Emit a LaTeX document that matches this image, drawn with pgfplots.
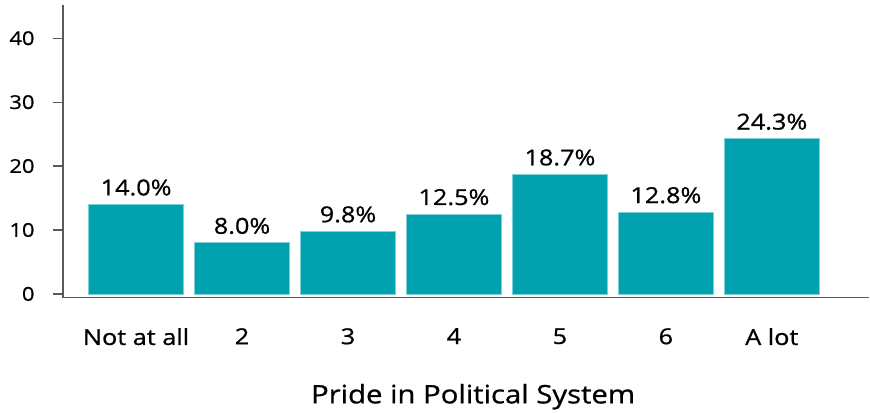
\documentclass[border=0pt]{standalone}
\usepackage{fontspec}
\setmainfont{Open Sans}[FakeStretch=1.15, FakeBold=0.8]
\usepackage{pgfplots}
\pgfplotsset{compat=1.18}
\definecolor{barteal}{HTML}{00A2AF}
\definecolor{baredge}{HTML}{7FD0D6}
\definecolor{axisgray}{HTML}{5A5A5A}

\begin{document}
\begin{tikzpicture}
  \begin{axis}[
    scale only axis,
    width=807pt, height=293pt,
    ybar, bar width=95pt, bar shift=0pt,
    xmin=-0.69, xmax=6.92,
    ymin=-0.6, ymax=45.2,
    xtick=data,
    xticklabels={Not at all,2,3,4,5,6,A lot},
    ytick={0,10,20,30,40},
    axis lines*=left,
    axis line style={axisgray, line width=1.4pt},
    x axis line style={-}, y axis line style={-},
    major tick length=10pt,
    tick align=outside,
    xtick style={draw=none},
    ytick style={axisgray, line width=1.2pt},
    /pgf/number format/assume math mode=true,
    yticklabel style={font=\fontsize{19}{22}\selectfont, xshift=-15pt},
    xticklabel style={font=\fontsize{22}{25}\selectfont, yshift=-17pt},
    xlabel={Pride in Political System},
    xlabel style={font=\fontsize{25.5}{28}\selectfont, yshift=-32pt, xshift=7pt},
    nodes near coords={\pgfmathprintnumber[fixed,fixed zerofill,precision=1]{\pgfplotspointmeta}\%},
    nodes near coords style={font=\fontsize{22}{26}\selectfont, text=black, yshift=5pt},
    clip=false,
  ]
    \addplot[fill=barteal, draw=baredge, line width=0.8pt] coordinates {
      (0,14.0) (1,8.0) (2,9.8) (3,12.5) (4,18.7) (5,12.8) (6,24.3)
    };
    \path (axis description cs:-0.0781,-0.3754) (axis description cs:1,1.017);
  \end{axis}
\end{tikzpicture}
\end{document}
